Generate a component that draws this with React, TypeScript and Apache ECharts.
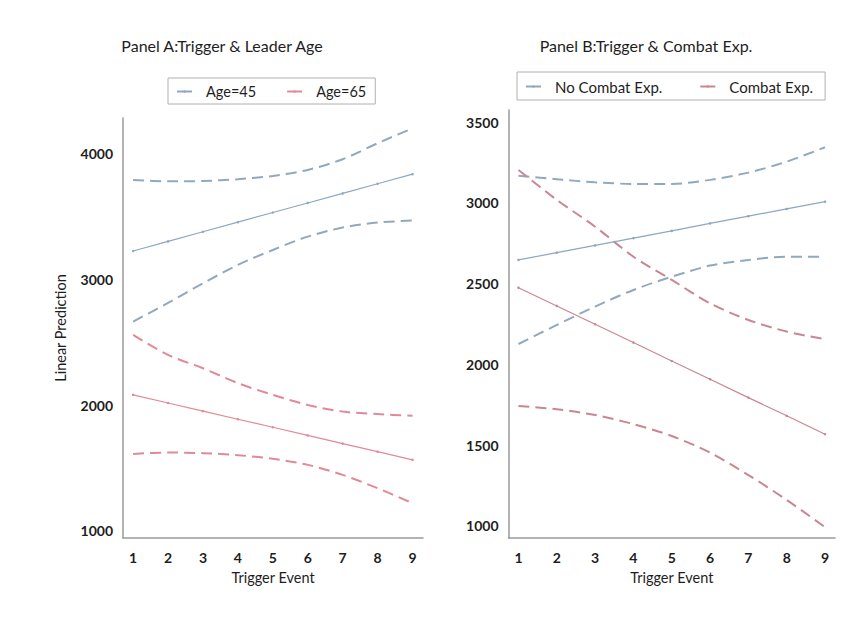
import React, { useEffect, useRef } from "react";
import * as echarts from "echarts";

// ---------- data ----------
const triggerEvents = [1, 2, 3, 4, 5, 6, 7, 8, 9];
const xTickLabels = [1, 2, 3, 4, 5, 6, 7, 8, 9];
const yTicksA = [1000, 2000, 3000, 4000];
const yTicksB = [1000, 1500, 2000, 2500, 3000, 3500];

// Panel A: Trigger & Leader Age
const age45 = [3228, 3304, 3381, 3457, 3534, 3610, 3686, 3763, 3839];
const age45Upper = [3793, 3782, 3785, 3799, 3825, 3873, 3958, 4085, 4204];
const age45Lower = [2666, 2815, 2971, 3117, 3236, 3342, 3414, 3454, 3470];
const age65 = [2083, 2018, 1954, 1889, 1825, 1760, 1695, 1631, 1566];
const age65Upper = [2560, 2401, 2295, 2176, 2083, 2003, 1950, 1930, 1916];
const age65Lower = [1613, 1624, 1619, 1603, 1574, 1526, 1446, 1340, 1221];

// Panel B: Trigger & Combat Exp.
const noCombat = [2647, 2692, 2737, 2782, 2827, 2873, 2918, 2963, 3008];
const noCombatUpper = [3169, 3147, 3128, 3118, 3118, 3143, 3188, 3256, 3345];
const noCombatLower = [2126, 2244, 2358, 2461, 2543, 2612, 2647, 2667, 2667];
const combat = [2475, 2362, 2248, 2135, 2021, 1908, 1794, 1681, 1567];
const combatUpper = [3204, 3019, 2853, 2667, 2523, 2378, 2275, 2203, 2156];
const combatLower = [1742, 1722, 1686, 1630, 1556, 1453, 1314, 1160, 991];

// ---------- styling ----------
const FONT = "Lato";
const TEXT = "#1e1e1e";
const AXIS = "#9a9a9a";
const BLUE = "#8fa7c0";
const BLUE_DASH = "#93a8bd";
const RED_A = "#e08a98";
const RED_B = "#c98791";

const pts = (arr: number[]) => triggerEvents.map((x, i) => [x, arr[i]]);

const solid = (name: string, data: number[], color: string, idx: number) => ({
  name,
  type: "line",
  xAxisIndex: idx,
  yAxisIndex: idx,
  data: pts(data),
  symbol: "circle",
  symbolSize: 2.5,
  showSymbol: true,
  itemStyle: { color },
  lineStyle: { color, width: 1.2 },
  z: 3,
});

const dashed = (name: string, data: number[], color: string, idx: number) => ({
  name,
  type: "line",
  xAxisIndex: idx,
  yAxisIndex: idx,
  data: pts(data),
  symbol: "none",
  smooth: 0.3,
  itemStyle: { color },
  lineStyle: { color, width: 2, type: [11, 6] },
  z: 2,
});

const xAxisCfg = (idx: number, min: number, max: number) => ({
  type: "value",
  gridIndex: idx,
  min,
  max,
  name: "Trigger Event",
  nameLocation: "middle",
  nameGap: 32,
  nameTextStyle: { fontFamily: FONT, fontSize: 14.5, color: TEXT },
  axisLine: { show: true, onZero: false, lineStyle: { color: AXIS, width: 1.5 } },
  axisTick: { show: false },
  splitLine: { show: false },
  axisLabel: {
    customValues: xTickLabels,
    margin: 12,
    fontFamily: FONT,
    fontSize: 14,
    fontWeight: "bold",
    color: TEXT,
    formatter: (v: number) => String(v),
  },
});

const yAxisCfg = (idx: number, min: number, max: number, ticks: number[], name?: string) => ({
  type: "value",
  gridIndex: idx,
  min,
  max,
  name: name || "",
  nameLocation: "middle",
  nameGap: 55,
  nameTextStyle: { fontFamily: FONT, fontSize: 14.5, color: TEXT },
  axisLine: { show: true, lineStyle: { color: AXIS, width: 1.5 } },
  axisTick: { show: false },
  splitLine: { show: false },
  axisLabel: {
    customValues: ticks,
    margin: 10,
    fontFamily: FONT,
    fontSize: 14,
    fontWeight: "bold",
    color: TEXT,
    formatter: (v: number) => String(v),
  },
});

const legendCfg = (
  names: string[],
  left: number,
  top: number,
  padding: number[],
  gap: number,
  fontSize: number
) => ({
  data: names,
  left,
  top,
  orient: "horizontal",
  borderColor: "#b0b0b0",
  borderWidth: 1,
  padding,
  itemWidth: 15,
  itemHeight: 3,
  itemGap: gap,
  textStyle: {
    fontFamily: FONT,
    fontSize,
    color: TEXT,
    padding: [0, 0, 0, 9],
  },
});

export default function App() {
  const ref = useRef<HTMLDivElement>(null);

  useEffect(() => {
    if (!ref.current) return;
    const chart = echarts.init(ref.current, null, { renderer: "svg" });
    chart.setOption({
      animation: false,
      backgroundColor: "#ffffff",
      graphic: [
        {
          type: "text",
          x: 222,
          y: 45,
          style: {
            text: "Panel A:Trigger & Leader Age",
            fontFamily: FONT,
            fontSize: 16,
            fill: TEXT,
            align: "center",
            verticalAlign: "middle",
          },
        },
        {
          type: "text",
          x: 646,
          y: 45,
          style: {
            text: "Panel B:Trigger & Combat Exp.",
            fontFamily: FONT,
            fontSize: 16,
            fill: TEXT,
            align: "center",
            verticalAlign: "middle",
          },
        },
      ],
      legend: [
        legendCfg(["Age=45", "Age=65"], 168, 78, [6, 9, 5, 8], 30, 14.5),
        legendCfg(["No Combat Exp.", "Combat Exp."], 517, 72, [7, 12, 6, 8], 37, 15),
      ],
      grid: [
        { left: 123, right: 431, top: 118, bottom: 86 },
        { left: 508.5, right: 19, top: 110, bottom: 86 },
      ],
      xAxis: [xAxisCfg(0, 0.71, 9.3), xAxisCfg(1, 0.74, 9.26)],
      yAxis: [
        yAxisCfg(0, 944, 4286, yTicksA, "Linear Prediction"),
        yAxisCfg(1, 924, 3576, yTicksB),
      ],
      series: [
        dashed("Age=45 upper", age45Upper, BLUE_DASH, 0),
        dashed("Age=45 lower", age45Lower, BLUE_DASH, 0),
        dashed("Age=65 upper", age65Upper, RED_A, 0),
        dashed("Age=65 lower", age65Lower, RED_A, 0),
        solid("Age=45", age45, BLUE, 0),
        solid("Age=65", age65, RED_A, 0),
        dashed("No Combat upper", noCombatUpper, BLUE_DASH, 1),
        dashed("No Combat lower", noCombatLower, BLUE_DASH, 1),
        dashed("Combat upper", combatUpper, RED_B, 1),
        dashed("Combat lower", combatLower, RED_B, 1),
        solid("No Combat Exp.", noCombat, BLUE, 1),
        solid("Combat Exp.", combat, RED_B, 1),
      ],
    });
    return () => chart.dispose();
  }, []);

  return (
    <div
      ref={ref}
      style={{ position: "fixed", left: 0, top: 0, width: 854, height: 624, background: "#fff" }}
    />
  );
}
